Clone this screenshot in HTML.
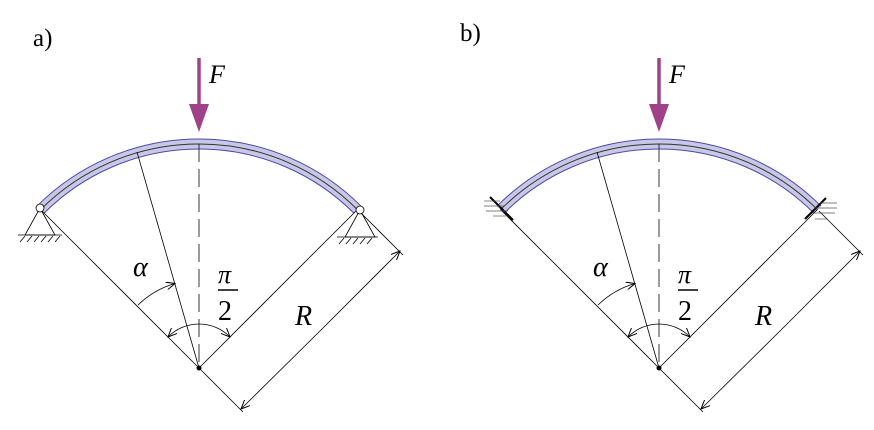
<!DOCTYPE html>
<html><head><meta charset="utf-8"><style>
html,body{margin:0;padding:0;background:#fff;width:874px;height:430px;overflow:hidden}
text{font-family:"Liberation Serif",serif;fill:#000}
</style></head><body>
<svg width="874" height="430" viewBox="0 0 874 430" xmlns="http://www.w3.org/2000/svg">
<defs>
<marker id="ar" markerWidth="10" markerHeight="8" refX="9" refY="4" orient="auto" markerUnits="userSpaceOnUse">
<path d="M0,0 L9,4 L0,8" fill="none" stroke="#000" stroke-width="1"/></marker>
<g id="common">
<path d="M-158.4,-158.4 A224,224 0 0 1 158.4,-158.4" fill="none" stroke="#4a4aa8" stroke-width="11"/>
<path d="M-158.4,-158.4 A224,224 0 0 1 158.4,-158.4" fill="none" stroke="#c8c8e6" stroke-width="9"/>
<path d="M-158.4,-158.4 A224,224 0 0 1 158.4,-158.4" fill="none" stroke="#333" stroke-width="1"/>
<line x1="0" y1="0" x2="-158.4" y2="-158.4" stroke="#000" stroke-width="0.8"/>
<line x1="0" y1="0" x2="158.4" y2="-158.4" stroke="#000" stroke-width="0.8"/>
<line x1="0" y1="0" x2="-62" y2="-216" stroke="#000" stroke-width="0.8"/>
<line x1="0" y1="-224" x2="0" y2="0" stroke="#222" stroke-width="0.9" stroke-dasharray="18,7"/>
<circle cx="0" cy="0" r="2.5" fill="#000"/>
<path d="M-61,-63 A88,88 0 0 1 -24,-84.5" fill="none" stroke="#000" stroke-width="0.8" marker-end="url(#ar)"/>
<path d="M0,-44 A44,44 0 0 1 31,-31" fill="none" stroke="#000" stroke-width="0.8" marker-end="url(#ar)"/>
<path d="M0,-44 A44,44 0 0 0 -31,-31" fill="none" stroke="#000" stroke-width="0.8" marker-end="url(#ar)"/>
<line x1="0" y1="0" x2="44" y2="44" stroke="#000" stroke-width="0.8"/>
<line x1="160" y1="-157" x2="204" y2="-113" stroke="#000" stroke-width="0.8"/>
<line x1="122" y1="-38" x2="201" y2="-117" stroke="#000" stroke-width="0.8" marker-end="url(#ar)"/>
<line x1="122" y1="-38" x2="42" y2="41" stroke="#000" stroke-width="0.8" marker-end="url(#ar)"/>
<line x1="0" y1="-310" x2="0" y2="-262" stroke="#a0428a" stroke-width="3.5"/>
<path d="M-10,-264 L10,-264 L0,-236 Z" fill="#a0428a"/>
<text x="10" y="-285" font-size="26" font-style="italic">F</text>
<text x="-66" y="-92" font-size="28" font-style="italic">α</text>
<text x="19" y="-85" font-size="26" font-style="italic">π</text>
<line x1="19" y1="-78" x2="39" y2="-78" stroke="#000" stroke-width="1.6"/>
<text x="19" y="-48" font-size="28">2</text>
<text x="96" y="-43" font-size="28" font-style="italic">R</text>
</g>
</defs>
<text x="33" y="46" font-size="25">a)</text>
<text x="460" y="41" font-size="25">b)</text>
<g transform="translate(199,368)"><use href="#common"/></g>
<g transform="translate(659,368)"><use href="#common"/></g>
<g stroke="#000" stroke-width="0.8" fill="none">
<path d="M40,208 L25,235 L55,235 Z"/>
<line x1="18" y1="235" x2="62" y2="235"/>
<path d="M20,242 L25,236 M27,242 L32,236 M34,242 L39,236 M41,242 L46,236 M48,242 L53,236 M55,242 L60,236"/>
<path d="M360,210 L345,237 L375,237 Z"/>
<line x1="337" y1="237" x2="378" y2="237"/>
<path d="M339,244 L344,238 M346,244 L351,238 M353,244 L358,238 M360,244 L365,238 M367,244 L372,238"/>
</g>
<circle cx="40" cy="208" r="4" fill="#fff" stroke="#000" stroke-width="0.8"/>
<circle cx="360" cy="210" r="4" fill="#fff" stroke="#000" stroke-width="0.8"/>
<g stroke="#000">
<line x1="490" y1="197" x2="513" y2="220" stroke-width="2"/>
<line x1="826" y1="198" x2="805" y2="219" stroke-width="2"/>
<g stroke-width="0.7" stroke="#555">
<line x1="484" y1="201" x2="500" y2="201"/><line x1="484" y1="206" x2="505" y2="206"/>
<line x1="486" y1="211" x2="508" y2="211"/><line x1="493" y1="216" x2="506" y2="216"/>
<line x1="820" y1="203" x2="837" y2="203"/><line x1="815" y1="208" x2="837" y2="208"/>
<line x1="812" y1="213" x2="835" y2="213"/><line x1="815" y1="219" x2="828" y2="219"/>
</g></g>
</svg>
</body></html>
